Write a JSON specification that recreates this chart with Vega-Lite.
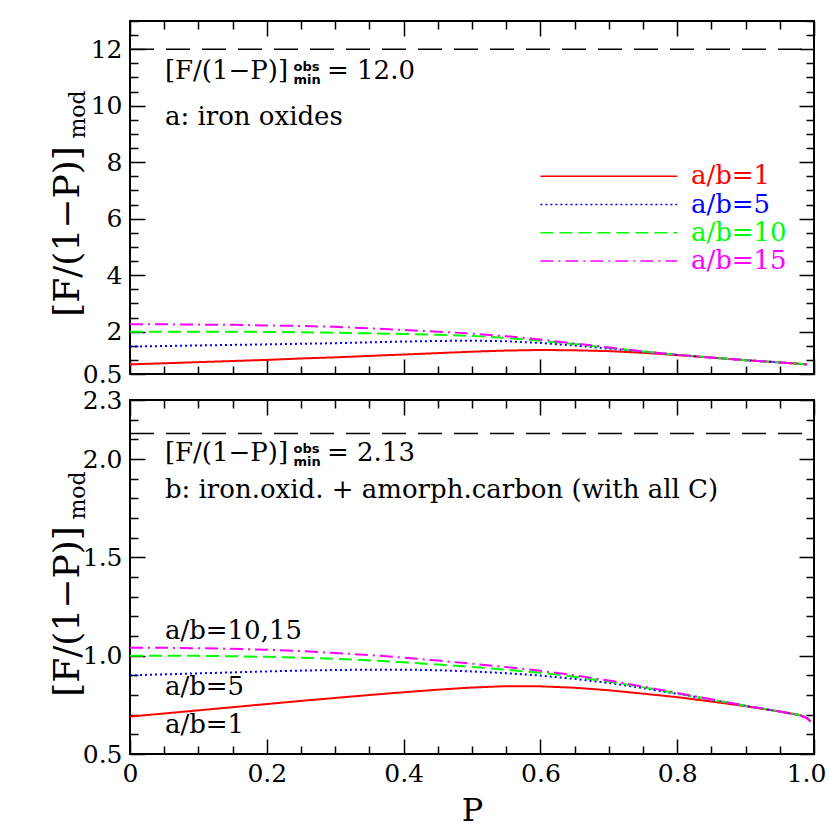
{
  "$schema": "https://vega.github.io/schema/vega-lite/v6.json",
  "padding": {"left": 48, "top": 8, "right": 5, "bottom": 5},
  "background": "white",
  "bounds": "flush",
  "spacing": 26,
  "config": {
    "view": {"stroke": "black", "strokeWidth": 2},
    "font": "DejaVu Serif",
    "axis": {
      "domain": false, "grid": false, "tickColor": "black", "tickWidth": 1.5,
      "labelFont": "DejaVu Serif", "labelFontSize": 25, "labelColor": "black",
      "labelOverlap": false, "labelFlush": false, "labelBound": false,
      "titleFont": "DejaVu Serif", "titleFontWeight": "normal", "titleColor": "black"
    },
    "text": {"font": "DejaVu Serif"}
  },
  "vconcat": [
    {
      "width": 684, "height": 353,
      "resolve": {"axis": {"x": "independent", "y": "independent"}},
      "layer": [
        {
          "data": {"values": [
            {"P": 0, "ab1": 0.84, "ab5": 1.47, "ab10": 2.00, "ab15": 2.26},
            {"P": 0.05, "ab1": 0.88, "ab5": 1.49, "ab10": 2.00, "ab15": 2.26},
            {"P": 0.1, "ab1": 0.92, "ab5": 1.51, "ab10": 2.00, "ab15": 2.25},
            {"P": 0.15, "ab1": 0.96, "ab5": 1.53, "ab10": 2.00, "ab15": 2.24},
            {"P": 0.2, "ab1": 1.00, "ab5": 1.55, "ab10": 1.99, "ab15": 2.22},
            {"P": 0.25, "ab1": 1.05, "ab5": 1.57, "ab10": 1.98, "ab15": 2.20},
            {"P": 0.3, "ab1": 1.09, "ab5": 1.59, "ab10": 1.96, "ab15": 2.17},
            {"P": 0.35, "ab1": 1.14, "ab5": 1.62, "ab10": 1.94, "ab15": 2.12},
            {"P": 0.4, "ab1": 1.19, "ab5": 1.65, "ab10": 1.92, "ab15": 2.06},
            {"P": 0.45, "ab1": 1.24, "ab5": 1.67, "ab10": 1.89, "ab15": 2.00},
            {"P": 0.5, "ab1": 1.29, "ab5": 1.68, "ab10": 1.85, "ab15": 1.93},
            {"P": 0.55, "ab1": 1.33, "ab5": 1.66, "ab10": 1.78, "ab15": 1.84},
            {"P": 0.6, "ab1": 1.35, "ab5": 1.60, "ab10": 1.68, "ab15": 1.72},
            {"P": 0.65, "ab1": 1.34, "ab5": 1.51, "ab10": 1.56, "ab15": 1.58},
            {"P": 0.7, "ab1": 1.31, "ab5": 1.40, "ab10": 1.43, "ab15": 1.44},
            {"P": 0.75, "ab1": 1.25, "ab5": 1.29, "ab10": 1.30, "ab15": 1.30},
            {"P": 0.8, "ab1": 1.17, "ab5": 1.18, "ab10": 1.18, "ab15": 1.18},
            {"P": 0.85, "ab1": 1.08, "ab5": 1.08, "ab10": 1.08, "ab15": 1.08},
            {"P": 0.9, "ab1": 0.99, "ab5": 0.99, "ab10": 0.99, "ab15": 0.99},
            {"P": 0.95, "ab1": 0.91, "ab5": 0.91, "ab10": 0.91, "ab15": 0.91},
            {"P": 0.99, "ab1": 0.84, "ab5": 0.84, "ab10": 0.84, "ab15": 0.84}
          ]},
          "transform": [{"fold": ["ab1", "ab5", "ab10", "ab15"], "as": ["ab", "F"]}],
          "mark": {"type": "line", "strokeWidth": 2},
          "encoding": {
            "x": {"field": "P", "type": "quantitative",
              "scale": {"domain": [0, 1], "nice": false, "zero": false},
              "axis": {"orient": "bottom", "title": null, "labels": false,
                "values": [0,0.05,0.1,0.15,0.2,0.25,0.3,0.35,0.4,0.45,0.5,0.55,0.6,0.65,0.7,0.75,0.8,0.85,0.9,0.95,1],
                "tickSize": {"condition": {"test": "indexof([0,0.2,0.4,0.6,0.8,1], datum.value) >= 0", "value": -15}, "value": -8}}},
            "y": {"field": "F", "type": "quantitative",
              "scale": {"domain": [0.5, 13], "nice": false, "zero": false},
              "axis": {"orient": "left",
                "values": [0.5,1,1.5,2,2.5,3,3.5,4,4.5,5,5.5,6,6.5,7,7.5,8,8.5,9,9.5,10,10.5,11,11.5,12,12.5,13],
                "labelExpr": "indexof([0.5,2,4,6,8,10,12], datum.value) >= 0 ? '' + datum.value : ''",
                "labelPadding": 23,
                "tickSize": {"condition": {"test": "indexof([0.5,2,4,6,8,10,12], datum.value) >= 0", "value": -15}, "value": -8},
                "title": "[F/(1−P)]", "titleFontSize": 36, "titleAngle": 270,
                "titleX": -52, "titleY": 210, "titleAlign": "center", "titleBaseline": "alphabetic"}},
            "color": {"field": "ab", "type": "nominal",
              "scale": {"domain": ["ab1", "ab5", "ab10", "ab15"], "range": ["#ff0000", "#0000ff", "#00ff00", "#ff00ff"]}, "legend": null},
            "strokeDash": {"field": "ab", "type": "nominal",
              "scale": {"domain": ["ab1", "ab5", "ab10", "ab15"], "range": [[1, 0], [2, 3], [13, 6], [13, 5, 2, 5]]}, "legend": null}
          }
        },
        {
          "data": {"values": [{"P": 0, "P2": 1, "F": 12}]},
          "mark": {"type": "rule", "strokeDash": [24, 12], "strokeWidth": 1.5, "color": "black"},
          "encoding": {
            "x": {"field": "P", "type": "quantitative",
              "scale": {"domain": [0, 1], "nice": false, "zero": false},
              "axis": {"orient": "top", "title": null, "labels": false,
                "values": [0,0.05,0.1,0.15,0.2,0.25,0.3,0.35,0.4,0.45,0.5,0.55,0.6,0.65,0.7,0.75,0.8,0.85,0.9,0.95,1],
                "tickSize": {"condition": {"test": "indexof([0,0.2,0.4,0.6,0.8,1], datum.value) >= 0", "value": -15}, "value": -8}}},
            "x2": {"field": "P2"},
            "y": {"field": "F", "type": "quantitative",
              "scale": {"domain": [0.5, 13], "nice": false, "zero": false},
              "axis": {"orient": "right", "labels": false,
                "values": [0.5,1,1.5,2,2.5,3,3.5,4,4.5,5,5.5,6,6.5,7,7.5,8,8.5,9,9.5,10,10.5,11,11.5,12,12.5,13],
                "tickSize": {"condition": {"test": "indexof([0.5,2,4,6,8,10,12], datum.value) >= 0", "value": -15}, "value": -8},
                "title": "mod", "titleFontSize": 22, "titleAngle": 270,
                "titleX": -730, "titleY": 93, "titleAlign": "center", "titleBaseline": "alphabetic"}}
          }
        },
        {
          "data": {"values": [
            {"ab": "ab1", "P": 0.6, "F": 7.5}, {"ab": "ab1", "P": 0.8, "F": 7.5},
            {"ab": "ab5", "P": 0.6, "F": 6.5}, {"ab": "ab5", "P": 0.8, "F": 6.5},
            {"ab": "ab10", "P": 0.6, "F": 5.5}, {"ab": "ab10", "P": 0.8, "F": 5.5},
            {"ab": "ab15", "P": 0.6, "F": 4.5}, {"ab": "ab15", "P": 0.8, "F": 4.5}
          ]},
          "mark": {"type": "line", "strokeWidth": 1.5},
          "encoding": {
            "x": {"field": "P", "type": "quantitative", "scale": {"domain": [0, 1], "nice": false, "zero": false}, "axis": null},
            "y": {"field": "F", "type": "quantitative", "scale": {"domain": [0.5, 13], "nice": false, "zero": false}, "axis": null},
            "color": {"field": "ab", "type": "nominal",
              "scale": {"domain": ["ab1", "ab5", "ab10", "ab15"], "range": ["#ff0000", "#0000ff", "#00ff00", "#ff00ff"]}, "legend": null},
            "strokeDash": {"field": "ab", "type": "nominal",
              "scale": {"domain": ["ab1", "ab5", "ab10", "ab15"], "range": [[1, 0], [2, 3], [13, 6], [13, 5, 2, 5]]}, "legend": null}
          }
        },
        {
          "data": {"values": [
            {"ab": "ab1", "P": 0.82, "F": 7.5, "label": "a/b=1"},
            {"ab": "ab5", "P": 0.82, "F": 6.5, "label": "a/b=5"},
            {"ab": "ab10", "P": 0.82, "F": 5.5, "label": "a/b=10"},
            {"ab": "ab15", "P": 0.82, "F": 4.5, "label": "a/b=15"}
          ]},
          "mark": {"type": "text", "align": "left", "baseline": "middle", "fontSize": 26, "font": "DejaVu Serif"},
          "encoding": {
            "x": {"field": "P", "type": "quantitative", "scale": {"domain": [0, 1], "nice": false, "zero": false}, "axis": null},
            "y": {"field": "F", "type": "quantitative", "scale": {"domain": [0.5, 13], "nice": false, "zero": false}, "axis": null},
            "text": {"field": "label"},
            "color": {"field": "ab", "type": "nominal",
              "scale": {"domain": ["ab1", "ab5", "ab10", "ab15"], "range": ["#ff0000", "#0000ff", "#00ff00", "#ff00ff"]}, "legend": null}
          }
        },
        {
          "data": {"values": [
            {"P": 0.051, "F": 10.95, "label": "[F/(1−P)]"},
            {"P": 0.288, "F": 10.95, "label": "= 12.0"},
            {"P": 0.051, "F": 9.3, "label": "a: iron oxides"}
          ]},
          "mark": {"type": "text", "align": "left", "baseline": "alphabetic", "fontSize": 26, "font": "DejaVu Serif", "color": "black"},
          "encoding": {
            "x": {"field": "P", "type": "quantitative", "scale": {"domain": [0, 1], "nice": false, "zero": false}, "axis": null},
            "y": {"field": "F", "type": "quantitative", "scale": {"domain": [0.5, 13], "nice": false, "zero": false}, "axis": null},
            "text": {"field": "label"}
          }
        },
        {
          "data": {"values": [{"P": 0.239, "F": 10.95, "label": "obs"}]},
          "mark": {"type": "text", "align": "left", "baseline": "alphabetic", "fontSize": 13, "font": "DejaVu Sans", "fontWeight": "bold", "dy": -8, "color": "black"},
          "encoding": {
            "x": {"field": "P", "type": "quantitative", "scale": {"domain": [0, 1], "nice": false, "zero": false}, "axis": null},
            "y": {"field": "F", "type": "quantitative", "scale": {"domain": [0.5, 13], "nice": false, "zero": false}, "axis": null},
            "text": {"field": "label"}
          }
        },
        {
          "data": {"values": [{"P": 0.239, "F": 10.95, "label": "min"}]},
          "mark": {"type": "text", "align": "left", "baseline": "alphabetic", "fontSize": 13, "font": "DejaVu Sans", "fontWeight": "bold", "dy": 5, "color": "black"},
          "encoding": {
            "x": {"field": "P", "type": "quantitative", "scale": {"domain": [0, 1], "nice": false, "zero": false}, "axis": null},
            "y": {"field": "F", "type": "quantitative", "scale": {"domain": [0.5, 13], "nice": false, "zero": false}, "axis": null},
            "text": {"field": "label"}
          }
        }
      ]
    },
    {
      "width": 684, "height": 354,
      "resolve": {"axis": {"x": "independent", "y": "independent"}},
      "layer": [
        {
          "data": {"values": [
            {"P": 0, "ab1": 0.690, "ab5": 0.900, "ab10": 1.000, "ab15": 1.040},
            {"P": 0.05, "ab1": 0.706, "ab5": 0.905, "ab10": 1.000, "ab15": 1.040},
            {"P": 0.1, "ab1": 0.722, "ab5": 0.910, "ab10": 0.999, "ab15": 1.038},
            {"P": 0.15, "ab1": 0.738, "ab5": 0.915, "ab10": 0.997, "ab15": 1.035},
            {"P": 0.2, "ab1": 0.754, "ab5": 0.920, "ab10": 0.994, "ab15": 1.030},
            {"P": 0.25, "ab1": 0.770, "ab5": 0.924, "ab10": 0.990, "ab15": 1.023},
            {"P": 0.3, "ab1": 0.785, "ab5": 0.927, "ab10": 0.984, "ab15": 1.014},
            {"P": 0.35, "ab1": 0.800, "ab5": 0.929, "ab10": 0.976, "ab15": 1.003},
            {"P": 0.4, "ab1": 0.814, "ab5": 0.929, "ab10": 0.966, "ab15": 0.990},
            {"P": 0.45, "ab1": 0.827, "ab5": 0.926, "ab10": 0.955, "ab15": 0.975},
            {"P": 0.5, "ab1": 0.838, "ab5": 0.920, "ab10": 0.943, "ab15": 0.959},
            {"P": 0.55, "ab1": 0.845, "ab5": 0.911, "ab10": 0.929, "ab15": 0.942},
            {"P": 0.6, "ab1": 0.844, "ab5": 0.899, "ab10": 0.913, "ab15": 0.923},
            {"P": 0.65, "ab1": 0.837, "ab5": 0.882, "ab10": 0.893, "ab15": 0.900},
            {"P": 0.7, "ab1": 0.824, "ab5": 0.861, "ab10": 0.869, "ab15": 0.874},
            {"P": 0.75, "ab1": 0.807, "ab5": 0.835, "ab10": 0.840, "ab15": 0.843},
            {"P": 0.8, "ab1": 0.789, "ab5": 0.806, "ab10": 0.808, "ab15": 0.810},
            {"P": 0.85, "ab1": 0.767, "ab5": 0.776, "ab10": 0.777, "ab15": 0.778},
            {"P": 0.9, "ab1": 0.743, "ab5": 0.745, "ab10": 0.745, "ab15": 0.745},
            {"P": 0.95, "ab1": 0.716, "ab5": 0.716, "ab10": 0.716, "ab15": 0.716},
            {"P": 0.98, "ab1": 0.697, "ab5": 0.697, "ab10": 0.697, "ab15": 0.697},
            {"P": 0.99, "ab1": 0.682, "ab5": 0.682, "ab10": 0.682, "ab15": 0.682},
            {"P": 0.995, "ab1": 0.665, "ab5": 0.665, "ab10": 0.665, "ab15": 0.665}
          ]},
          "transform": [{"fold": ["ab1", "ab5", "ab10", "ab15"], "as": ["ab", "F"]}],
          "mark": {"type": "line", "strokeWidth": 2},
          "encoding": {
            "x": {"field": "P", "type": "quantitative",
              "scale": {"domain": [0, 1], "nice": false, "zero": false},
              "axis": {"orient": "bottom",
                "values": [0,0.05,0.1,0.15,0.2,0.25,0.3,0.35,0.4,0.45,0.5,0.55,0.6,0.65,0.7,0.75,0.8,0.85,0.9,0.95,1],
                "labelExpr": "indexof([0,0.2,0.4,0.6,0.8,1], datum.value) >= 0 ? (datum.value == 0 ? '0' : format(datum.value, '.1f')) : ''",
                "labelPadding": 22,
                "labelOffset": {"condition": {"test": "datum.value == 1", "value": -8}, "value": 0},
                "tickSize": {"condition": {"test": "indexof([0,0.2,0.4,0.6,0.8,1], datum.value) >= 0", "value": -15}, "value": -8},
                "title": "P", "titleFontSize": 32, "titlePadding": 2}},
            "y": {"field": "F", "type": "quantitative",
              "scale": {"domain": [0.5, 2.3], "nice": false, "zero": false},
              "axis": {"orient": "left",
                "values": [0.5,0.6,0.7,0.8,0.9,1,1.1,1.2,1.3,1.4,1.5,1.6,1.7,1.8,1.9,2,2.1,2.2,2.3],
                "labelExpr": "indexof([0.5,1,1.5,2,2.3], datum.value) >= 0 ? format(datum.value, '.1f') : ''",
                "labelPadding": 23,
                "tickSize": {"condition": {"test": "indexof([0.5,1,1.5,2,2.3], datum.value) >= 0", "value": -15}, "value": -8},
                "title": "[F/(1−P)]", "titleFontSize": 36, "titleAngle": 270,
                "titleX": -52, "titleY": 211, "titleAlign": "center", "titleBaseline": "alphabetic"}},
            "color": {"field": "ab", "type": "nominal",
              "scale": {"domain": ["ab1", "ab5", "ab10", "ab15"], "range": ["#ff0000", "#0000ff", "#00ff00", "#ff00ff"]}, "legend": null},
            "strokeDash": {"field": "ab", "type": "nominal",
              "scale": {"domain": ["ab1", "ab5", "ab10", "ab15"], "range": [[1, 0], [2, 3], [13, 6], [13, 5, 2, 5]]}, "legend": null}
          }
        },
        {
          "data": {"values": [{"P": 0, "P2": 1, "F": 2.13}]},
          "mark": {"type": "rule", "strokeDash": [24, 12], "strokeWidth": 1.5, "color": "black"},
          "encoding": {
            "x": {"field": "P", "type": "quantitative",
              "scale": {"domain": [0, 1], "nice": false, "zero": false},
              "axis": {"orient": "top", "title": null, "labels": false,
                "values": [0,0.05,0.1,0.15,0.2,0.25,0.3,0.35,0.4,0.45,0.5,0.55,0.6,0.65,0.7,0.75,0.8,0.85,0.9,0.95,1],
                "tickSize": {"condition": {"test": "indexof([0,0.2,0.4,0.6,0.8,1], datum.value) >= 0", "value": -15}, "value": -8}}},
            "x2": {"field": "P2"},
            "y": {"field": "F", "type": "quantitative",
              "scale": {"domain": [0.5, 2.3], "nice": false, "zero": false},
              "axis": {"orient": "right", "labels": false,
                "values": [0.5,0.6,0.7,0.8,0.9,1,1.1,1.2,1.3,1.4,1.5,1.6,1.7,1.8,1.9,2,2.1,2.2,2.3],
                "tickSize": {"condition": {"test": "indexof([0.5,1,1.5,2,2.3], datum.value) >= 0", "value": -15}, "value": -8},
                "title": "mod", "titleFontSize": 22, "titleAngle": 270,
                "titleX": -730, "titleY": 95, "titleAlign": "center", "titleBaseline": "alphabetic"}}
          }
        },
        {
          "data": {"values": [
            {"P": 0.051, "F": 1.99, "label": "[F/(1−P)]"},
            {"P": 0.288, "F": 1.99, "label": "= 2.13"},
            {"P": 0.051, "F": 1.80, "label": "b: iron.oxid. + amorph.carbon (with all C)"},
            {"P": 0.051, "F": 1.085, "label": "a/b=10,15"},
            {"P": 0.051, "F": 0.80, "label": "a/b=5"},
            {"P": 0.051, "F": 0.607, "label": "a/b=1"}
          ]},
          "mark": {"type": "text", "align": "left", "baseline": "alphabetic", "fontSize": 26, "font": "DejaVu Serif", "color": "black"},
          "encoding": {
            "x": {"field": "P", "type": "quantitative", "scale": {"domain": [0, 1], "nice": false, "zero": false}, "axis": null},
            "y": {"field": "F", "type": "quantitative", "scale": {"domain": [0.5, 2.3], "nice": false, "zero": false}, "axis": null},
            "text": {"field": "label"}
          }
        },
        {
          "data": {"values": [{"P": 0.239, "F": 1.99, "label": "obs"}]},
          "mark": {"type": "text", "align": "left", "baseline": "alphabetic", "fontSize": 13, "font": "DejaVu Sans", "fontWeight": "bold", "dy": -8, "color": "black"},
          "encoding": {
            "x": {"field": "P", "type": "quantitative", "scale": {"domain": [0, 1], "nice": false, "zero": false}, "axis": null},
            "y": {"field": "F", "type": "quantitative", "scale": {"domain": [0.5, 2.3], "nice": false, "zero": false}, "axis": null},
            "text": {"field": "label"}
          }
        },
        {
          "data": {"values": [{"P": 0.239, "F": 1.99, "label": "min"}]},
          "mark": {"type": "text", "align": "left", "baseline": "alphabetic", "fontSize": 13, "font": "DejaVu Sans", "fontWeight": "bold", "dy": 5, "color": "black"},
          "encoding": {
            "x": {"field": "P", "type": "quantitative", "scale": {"domain": [0, 1], "nice": false, "zero": false}, "axis": null},
            "y": {"field": "F", "type": "quantitative", "scale": {"domain": [0.5, 2.3], "nice": false, "zero": false}, "axis": null},
            "text": {"field": "label"}
          }
        }
      ]
    }
  ]
}
